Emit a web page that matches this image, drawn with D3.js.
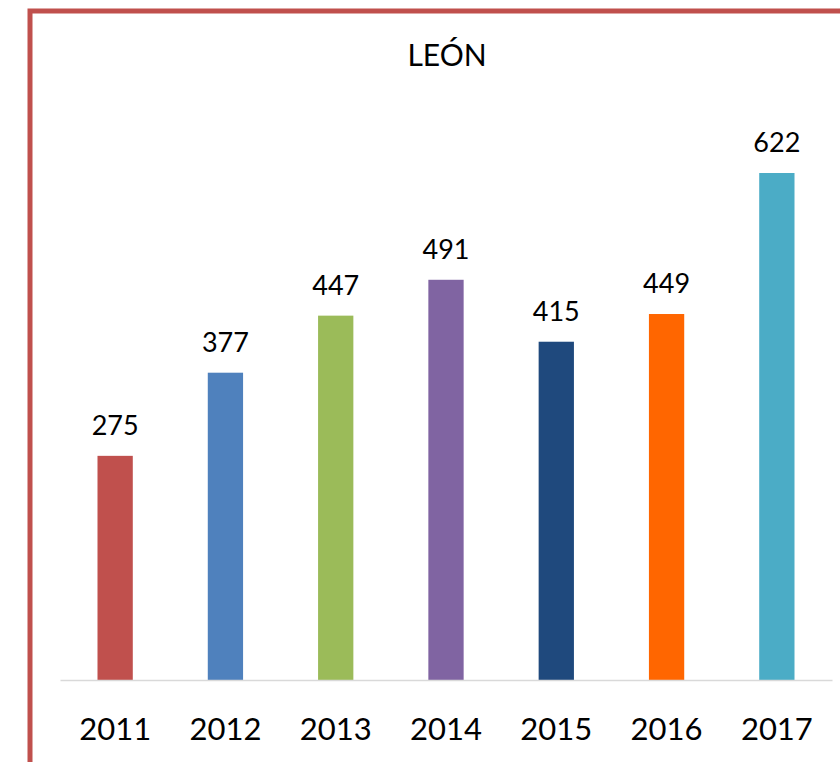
<!DOCTYPE html>
<html>
<head>
<meta charset="utf-8">
<script src="https://cdn.jsdelivr.net/npm/d3@7"></script>
<style>
  body { margin: 0; background: #fff; overflow: hidden; }
  text { font-family: Lato, "Open Sans", sans-serif; fill: #000; }
</style>
</head>
<body>
<div id="chart"></div>
<script>
// chart data
const years = ["2011", "2012", "2013", "2014", "2015", "2016", "2017"];
const values = [275, 377, 447, 491, 415, 449, 622];
const colors = ["#C0504D", "#4F81BD", "#9BBB59", "#8064A2", "#1F497D", "#FF6600", "#4BACC6"];
const title = "LEÓN";

const width = 840, height = 762;

const svg = d3.select('#chart').append('svg')
    .attr('width', width)
    .attr('height', height);

// outer frame (cut off at right and bottom)
svg.append('rect')
    .attr('x', 30)
    .attr('y', 11)
    .attr('width', 900)
    .attr('height', 900)
    .attr('fill', 'none')
    .attr('stroke', '#C0504D')
    .attr('stroke-width', 5);

const x = d3.scaleBand()
    .domain(years)
    .range([60, 832])
    .paddingInner(0.68)
    .paddingOuter(0.34);

const y = d3.scaleLinear()
    .domain([0, 622])
    .range([680, 173]);

svg.append('text')
    .attr('x', 447)
    .attr('y', 66)
    .attr('text-anchor', 'middle')
    .style('font-size', '30px')
    .text(title);

svg.selectAll('.bar')
    .data(values)
    .enter()
    .append('rect')
    .attr('class', 'bar')
    .attr('x', (d, i) => x(years[i]))
    .attr('y', d => y(d))
    .attr('width', x.bandwidth())
    .attr('height', d => y(0) - y(d))
    .attr('fill', (d, i) => colors[i]);

svg.selectAll('.val')
    .data(values)
    .enter()
    .append('text')
    .attr('class', 'val')
    .attr('x', (d, i) => x(years[i]) + x.bandwidth() / 2)
    .attr('y', d => y(d) - 21)
    .attr('text-anchor', 'middle')
    .style('font-size', '27px')
    .text(d => d);

// category axis
const axis = svg.append('g')
    .attr('transform', 'translate(0,680)')
    .call(d3.axisBottom(x).tickSize(0).tickPadding(38));
axis.select('.domain').attr('stroke', '#D9D9D9').attr('stroke-width', 1.5);
axis.selectAll('text')
    .style('font-size', '31px')
    .style('font-family', 'Lato, "Open Sans", sans-serif')
    .attr('fill', '#000');
</script>
</body>
</html>
